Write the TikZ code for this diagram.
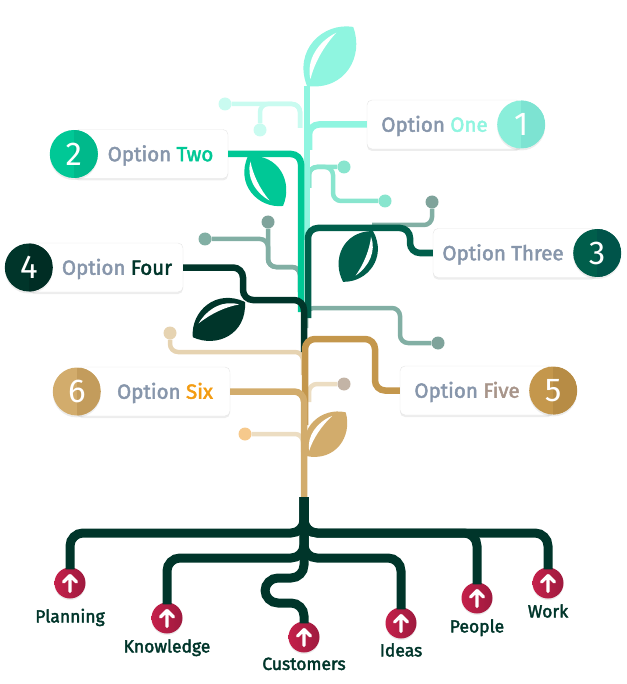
\documentclass[tikz,border=0pt]{standalone}
\usepackage{fontspec}
\setmainfont{Fira Sans}
\newfontfamily\optfont{Fira Sans}[FakeBold=2.2]
\usepackage{tikz}
\usetikzlibrary{positioning}
\usetikzlibrary{shadows}
\definecolor{onec}{HTML}{8FF5E0}
\definecolor{onecirc}{HTML}{8AEEDA}
\definecolor{onedk}{HTML}{7DE3D2}
\definecolor{twoc}{HTML}{00C896}
\definecolor{twodk}{HTML}{00B98B}
\definecolor{threec}{HTML}{005E4B}
\definecolor{threedk}{HTML}{00544A}
\definecolor{fourc}{HTML}{00352A}
\definecolor{fourdk}{HTML}{002D24}
\definecolor{fivec}{HTML}{C4974C}
\definecolor{fivedk}{HTML}{B78C45}
\definecolor{fivetxt}{HTML}{A8958A}
\definecolor{sixc}{HTML}{D2AC6C}
\definecolor{sixdk}{HTML}{C39C5C}
\definecolor{sixtxt}{HTML}{F39C12}
\definecolor{optgray}{HTML}{8796AB}
\definecolor{mintl}{HTML}{C9FBF0}
\definecolor{mintm}{HTML}{88E5CE}
\definecolor{sage}{HTML}{82AFA4}
\definecolor{sagedot}{HTML}{7FA39B}
\definecolor{beige}{HTML}{E6D3B1}
\definecolor{beigel}{HTML}{ECDDC2}
\definecolor{taupe}{HTML}{C3B4A6}
\definecolor{peach}{HTML}{F6C98C}
\definecolor{crimA}{HTML}{C4204A}
\definecolor{crimB}{HTML}{9E1A3E}
\tikzset{
    optbox/.style = {draw=black!10, fill=white, rounded corners=5pt, minimum height=49pt, inner sep=0pt,
                     drop shadow={opacity=0.14, shadow xshift=0pt, shadow yshift=-2pt}},
    opttext/.style = {font=\optfont\fontsize{20.5}{24}\selectfont, text=optgray, inner sep=0pt,
                      text height=14.5pt, text depth=0pt},
    numc/.style 2 args = {circle, minimum size=48pt, inner sep=0pt, fill=#1, text=white,
                          font=\fontsize{33}{33}\selectfont,
                          drop shadow={opacity=0.15, shadow xshift=0pt, shadow yshift=-2pt},
                          path picture={\fill [#2] (path picture bounding box.north) rectangle (path picture bounding box.south east);}},
    branch/.style = {line width=6.5pt, rounded corners=10pt},
    twig/.style = {line width=4.5pt, rounded corners=8pt},
    dot/.style = {circle, inner sep=0pt, minimum size=13pt},
    root/.style = {line width=9pt, fourc, rounded corners=13pt, shorten >=-2pt},
    rootc/.style = {circle, minimum size=31pt, inner sep=0pt, left color=crimA, right color=crimB,
                    drop shadow={opacity=0.15, shadow xshift=0pt, shadow yshift=-1.5pt}},
    rootlab/.style = {font=\optfont\fontsize{17.5}{20}\selectfont, text=fourc, inner sep=0pt,
                      text height=13pt, text depth=4pt},
    leaf/.pic = {
        \fill (0,0) .. controls (0.26,0.44) and (0.78,0.36) .. (1,0) .. controls (0.8,-0.36) and (0.26,-0.44) .. (0,0) -- cycle;
        \fill [white] (0.1,-0.02) .. controls (0.26,-0.22) and (0.55,-0.25) .. (0.8,-0.13) .. controls (0.55,-0.15) and (0.3,-0.11) .. (0.1,-0.02) -- cycle;
    },
    uparrow/.pic = {
        \draw [white, line width=3.2pt, line cap=round, line join=round] (0,8.5) -- (0,-7.5) (-6.5,-1) -- (0,-7.5) -- (6.5,-1);
    }
}

\begin{document}
\begin{tikzpicture}[x=1pt, y=-1pt]
  \useasboundingbox (0,0) rectangle (626,684);

  % option boxes
  \node [optbox, minimum width=154pt] (box1) at (444,124.5) {};
  \node [optbox, minimum width=154pt] (box2) at (151,154) {};
  \node [optbox, minimum width=164pt] (box3) at (515,253) {};
  \node [optbox, minimum width=154pt] (box4) at (106,267.5) {};
  \node [optbox, minimum width=153pt] (box5) at (476.5,390.5) {};
  \node [optbox, minimum width=153pt] (box6) at (153.5,391.5) {};

  % twigs with dots
  \node [dot, fill=mintl] (d1) at (225,104) {};
  \node [dot, fill=mintl] (d2) at (260,130) {};
  \coordinate (j1) at (300,128);
  \draw [twig, mintl] (j1) |- (d1);
  \draw [twig, mintl] (j1) |- (260,104) -- (d2);

  \node [dot, fill=mintm] (d3) at (344,167) {};
  \node [dot, fill=mintm] (d4) at (385,201) {};
  \coordinate (j2) at (309,188);
  \draw [twig, mintm] (j2) |- (d3);
  \draw [twig, mintm] (j2) |- (333,167) |- (d4);

  \node [dot, fill=sage] (d5) at (205,239) {};
  \node [dot, fill=sagedot] (d6) at (268,222) {};
  \coordinate (j3) at (300,292);
  \draw [twig, sage] (j3) |- (268,267) |- (d5);
  \draw [twig, sage] (j3) |- (268,267) -- (d6);

  \node [dot, fill=sagedot] (d7) at (432,202) {};
  \draw [twig, sage] (d7) |- (372,225);

  \node [dot, fill=sagedot] (d8) at (438,343) {};
  \coordinate (j4) at (306,328);
  \draw [twig, sage] (j4) |- (400,308) |- (d8);

  \node [dot, fill=beige] (d9) at (170,333) {};
  \coordinate (j5) at (303,375);
  \draw [twig, beige] (d9) |- (303,352) -- (j5);

  \node [dot, fill=taupe] (d10) at (344,384) {};
  \coordinate (j6) at (309,402);
  \draw [twig, beigel] (j6) |- (d10);

  \node [dot, fill=peach] (d11) at (245,434) {};
  \coordinate (j7) at (303,452);
  \draw [twig, beigel] (j7) |- (d11);

  % branches into the trunk
  \coordinate (t0) at (307,240);
  \coordinate (t1) at (309,150);
  \coordinate (t2) at (301,312);
  \coordinate (t3) at (308,318);
  \coordinate (t4) at (304,352);
  \coordinate (t5) at (305,425);
  \coordinate (t6) at (304,500);
  \draw [branch, onec] (t0) -- (307,86);
  \draw [branch, onec] (box1.west) -| (t1);
  \draw [branch, twoc] (box2.east) -| (t2);
  \draw [branch, threec] (box3.west) -| (410,228) -| (t3);
  \draw [branch, fourc] (box4.east) -| (243,300) -| (t4);
  \draw [branch, fivec] (box5.west) -| (375,339) -| (t5);
  \draw [branch, sixc] (box6.east) -| (t6);

  % leaves
  \pic [fill=onec, rotate=52, scale=75] at (307,86) {leaf};
  \pic [fill=twoc, rotate=-55, yscale=-1, scale=61] at (248,156) {leaf};
  \pic [fill=threec, rotate=-120.5, scale=59] at (373,231) {leaf};
  \pic [fill=fourc, rotate=-146, yscale=-1, scale=63] at (245,302) {leaf};
  \pic [fill=sixc, rotate=47.7, scale=59] at (306,456) {leaf};

  % numbers and texts
  \node [numc={onecirc}{onedk}] (n1) at (box1.east) {1};
  \node [numc={twoc}{twodk}] (n2) at (box2.west) {2};
  \node [numc={threec}{threedk}] (n3) at (box3.east) {3};
  \node [numc={fourc}{fourdk}] (n4) at (box4.west) {4};
  \node [numc={fivec}{fivedk}] (n5) at (box5.east) {5};
  \node [numc={sixc}{sixdk}] (n6) at (box6.west) {6};
  \node [opttext] (l1) at (434.5,124.5) {Option \textcolor{onec}{One}};
  \node [opttext] (l2) at (160.5,154) {Option \textcolor{twoc}{Two}};
  \node [opttext] (l3) at (503,253) {Option Three};
  \node [opttext] (l4) at (117,267.5) {Option \textcolor{fourc}{Four}};
  \node [opttext] (l5) at (467,390.5) {Option \textcolor{fivetxt}{Five}};
  \node [opttext] (l6) at (165,391.5) {Option \textcolor{sixtxt}{Six}};

  % roots
  \node [rootc] (plan) at (70,583) {};
  \node [rootc] (know) at (167,618) {};
  \node [rootc] (cust) at (304,637) {};
  \node [rootc] (idea) at (401,623) {};
  \node [rootc] (peop) at (477,598) {};
  \node [rootc] (work) at (548,583) {};
  \coordinate (rt) at (304,497);
  \draw [root] (rt) -- (304,533) -| (plan);
  \draw [root] (rt) -- (304,533) -| (peop);
  \draw [root] (rt) -- (304,533) -| (work);
  \draw [root] (rt) -- (304,558) -| (know);
  \draw [root] (rt) -- (304,558) -| (idea);
  \draw [root] (rt) -- (304,578) -- (265,578) -- (265,603) -- (304,603) -- (cust);
  \foreach \r in {plan,know,cust,idea,peop,work}
    \pic at (\r) {uparrow};
  \node [rootlab, below=10.5pt of plan] (planl) {Planning};
  \node [rootlab, below=5.5pt of know] (knowl) {Knowledge};
  \node [rootlab, below=4pt of cust] (custl) {Customers};
  \node [rootlab, below=4.5pt of idea] (ideal) {Ideas};
  \node [rootlab, below=5.5pt of peop] (peopl) {People};
  \node [rootlab, below=5.5pt of work] (workl) {Work};
\end{tikzpicture}
\end{document}
